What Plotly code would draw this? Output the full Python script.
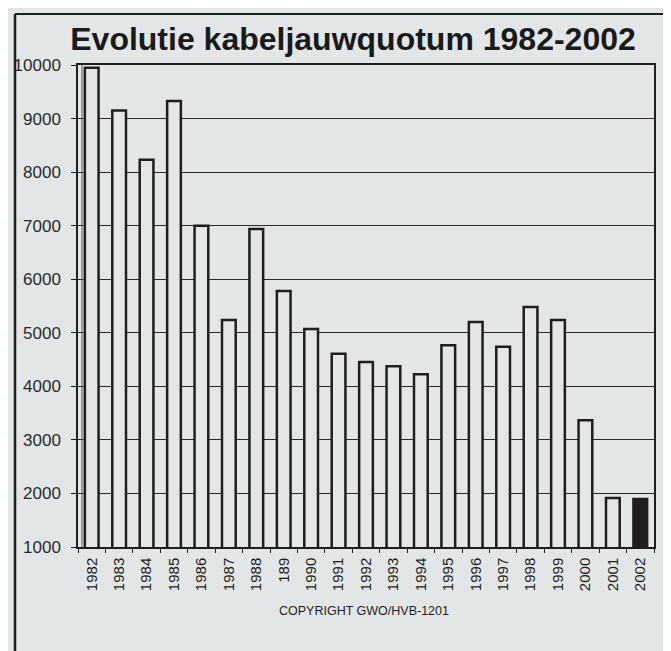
import plotly.graph_objects as go

years = ["1982", "1983", "1984", "1985", "1986", "1987", "1988", "189", "1990", "1991",
         "1992", "1993", "1994", "1995", "1996", "1997", "1998", "1999", "2000", "2001", "2002"]
quota = [9950, 9150, 8230, 9330, 7000, 5240, 6940, 5780, 5070, 4610,
         4455, 4375, 4225, 4765, 5200, 4740, 5480, 5240, 3365, 1915, 1895]
y_ticks = [1000, 2000, 3000, 4000, 5000, 6000, 7000, 8000, 9000, 10000]
y_labels = ["1000", "2000", "3000", "4000", "5000", "6000", "7000", "8000", "9000", "10000"]

BG = "#e3e6e6"
INK = "#1e1e1e"
FONT = "Liberation Sans, Arial, sans-serif"

fill = [BG] * (len(years) - 1) + [INK]

fig = go.Figure(go.Bar(
    x=years, y=quota,
    marker=dict(color=fill, line=dict(color=INK, width=2.5)),
    width=0.5,
    hoverinfo="x+y",
))

fig.update_layout(
    width=671, height=651,
    margin=dict(l=70, r=25, t=57, b=112),
    paper_bgcolor=BG, plot_bgcolor=BG,
    showlegend=False,
    font=dict(family=FONT, color=INK),
    title=dict(text="<b>Evolutie kabeljauwquotum 1982-2002</b>",
               font=dict(size=32, family=FONT, color="#1a1a1a"),
               x=345 / 671, xanchor="center", xref="container",
               y=1 - 31 / 651, yanchor="middle", yref="container"),
    xaxis=dict(type="category", tickangle=-90, tickfont=dict(size=15, color=INK),
               ticks="outside", tickson="boundaries", ticklen=4, tickcolor=INK,
               ticklabelstandoff=3, automargin=False,
               showline=True, linecolor=INK, linewidth=1.5, mirror=True,
               showgrid=False),
    yaxis=dict(range=[1000, 10000], tickvals=y_ticks, ticktext=y_labels,
               tickfont=dict(size=17, color="#2a2a2a"),
               ticks="outside", ticklen=5, tickcolor=INK,
               ticklabelstandoff=7, automargin=False,
               showline=True, linecolor=INK, linewidth=1.5, mirror=True,
               showgrid=True, gridcolor="#2a2a2a", gridwidth=1.4,
               zeroline=False),
    shapes=[
        # outer frame (left and top)
        dict(type="line", xref="paper", yref="paper", x0=-63 / 576, x1=-63 / 576,
             y0=(539 - 6) / 482, y1=(539 - 660) / 482, line=dict(color=INK, width=2.5)),
        dict(type="line", xref="paper", yref="paper", x0=-63 / 576, x1=610 / 576,
             y0=(539 - 6) / 482, y1=(539 - 6) / 482, line=dict(color=INK, width=2)),
        # inner double axis line
        dict(type="line", xref="paper", yref="paper", x0=4 / 576, x1=4 / 576,
             y0=0, y1=1, line=dict(color="#555555", width=1)),
    ],
    annotations=[
        dict(text="COPYRIGHT GWO/HVB-1201", xref="paper", yref="paper",
             x=(356 - 70) / 576, y=(539 - 603) / 482, showarrow=False,
             xanchor="center", yanchor="middle",
             font=dict(size=12.5, family=FONT, color=INK)),
    ],
)

fig.write_html("out.html")
